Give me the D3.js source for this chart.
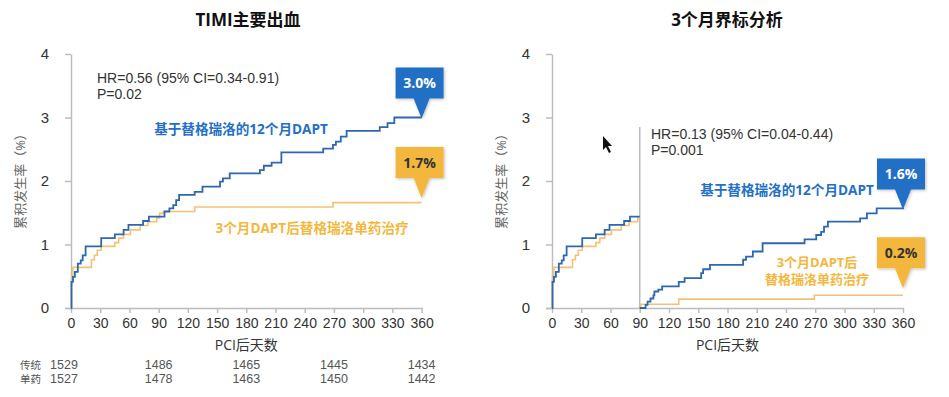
<!DOCTYPE html>
<html>
<head>
<meta charset="utf-8">
<script src="https://cdn.jsdelivr.net/npm/d3@7"></script>
<style>
  body { margin: 0; background: #fff; }
  svg { font-family: "Open Sans", "Noto Sans CJK SC", sans-serif; }
  .axis path, .axis line { stroke: #bdbdbd; stroke-width: 1.5; }
  .axis text { fill: #333; font-size: 14px; }
  .y-axis text { font-size: 15px; }
</style>
</head>
<body>
<div class="chart"></div>
<script>
// ============================================================================
// Data
// ============================================================================

// 基于替格瑞洛的12个月DAPT (full year)
var daptDays  = [0, 0.5, 2, 4, 7, 10, 12, 15, 31, 45, 54, 59, 74, 80, 96, 101, 105, 108, 111, 127, 135, 153, 156, 163, 194, 198, 206, 216, 259, 269, 272, 277, 283, 317, 325, 332, 360];
var daptRates = [0, 0.41, 0.49, 0.57, 0.70, 0.75, 0.83, 0.97, 1.10, 1.16, 1.23, 1.31, 1.37, 1.44, 1.52, 1.57, 1.62, 1.70, 1.78, 1.83, 1.91, 1.99, 2.04, 2.12, 2.17, 2.24, 2.29, 2.45, 2.51, 2.57, 2.62, 2.70, 2.79, 2.85, 2.91, 3.00, 3.00];

// 3个月DAPT后替格瑞洛单药治疗 (full year)
var monoDays  = [0, 0.5, 2, 21, 24, 27, 31, 45, 49, 54, 61, 71, 79, 88, 91, 95, 127, 269, 360];
var monoRates = [0, 0.47, 0.64, 0.76, 0.83, 0.91, 0.97, 1.03, 1.10, 1.16, 1.23, 1.30, 1.36, 1.42, 1.49, 1.52, 1.59, 1.66, 1.66];

// Landmark analysis, after day 90
var daptLmDays  = [90, 96, 98, 101, 104, 105, 109, 113, 130, 136, 153, 155, 162, 196, 199, 206, 216, 259, 271, 276, 279, 283, 316, 323, 333, 360];
var daptLmRates = [0, 0.05, 0.10, 0.15, 0.20, 0.26, 0.29, 0.34, 0.41, 0.47, 0.55, 0.61, 0.68, 0.76, 0.81, 0.89, 1.02, 1.08, 1.15, 1.20, 1.28, 1.36, 1.41, 1.49, 1.57, 1.58];
var monoLmDays  = [90, 91, 130, 269, 360];
var monoLmRates = [0, 0.06, 0.14, 0.20, 0.20];

// Ticks
var xTicks = [0, 30, 60, 90, 120, 150, 180, 210, 240, 270, 300, 330, 360];
var yTicks = [0, 1, 2, 3, 4];

// Number at risk
var riskGroups = ['传统', '单药'];
var riskDays = [0, 90, 180, 270, 360];
var riskDapt = [1529, 1486, 1465, 1445, 1434];
var riskMono = [1527, 1478, 1463, 1450, 1442];

// ============================================================================
// Create SVG
// ============================================================================

var svgWidth = 949;
var svgHeight = 397;

var BLUE_LINE = '#2d67b0';
var BLUE = '#2370c6';
var ORANGE_LINE = '#f3c275';
var ORANGE = '#f4b73e';

var svg = d3.select('.chart')
  .append('svg')
  .attr('width', svgWidth)
  .attr('height', svgHeight);

var defs = svg.append('defs');
var shadow = defs.append('filter').attr('id', 'shadow')
  .attr('x', '-20%').attr('y', '-20%').attr('width', '150%').attr('height', '150%');
shadow.append('feDropShadow')
  .attr('dx', 1).attr('dy', 1).attr('stdDeviation', 1.5)
  .attr('flood-color', '#000').attr('flood-opacity', 0.25);

function zip(days, rates) {
  return days.map((d, i) => ({ day: d, rate: rates[i] }));
}

// multi-line text as one element with tspans
function multiline(g, lines, x, y, lineHeight) {
  var t = g.append('text').attr('x', x).attr('y', y);
  lines.forEach(function(s, i) {
    t.append('tspan')
      .attr('x', x)
      .attr('dy', i === 0 ? 0 : lineHeight)
      .text(s);
  });
  return t;
}

// ============================================================================
// Panel builder
// ============================================================================

function drawPanel(p) {
  var xScale = d3.scaleLinear().domain([0, 360]).range([p.left, p.right]);
  var yScale = d3.scaleLinear().domain([0, 4]).range([308, 54]);

  var g = svg.append('g');

  // title
  g.append('text')
    .attr('x', p.titleX)
    .attr('y', 26)
    .attr('text-anchor', 'middle')
    .attr('font-size', 17)
    .attr('font-weight', 'bold')
    .attr('fill', '#111')
    .text(p.title);

  // axes
  g.append('g')
    .attr('class', 'axis x-axis')
    .attr('transform', `translate(0, ${yScale(0)})`)
    .call(d3.axisBottom(xScale).tickValues(xTicks).tickSize(5).tickPadding(5).tickSizeOuter(0))
    .call(a => a.select('.domain').attr('d', `M${p.left - 6},0.5H${p.right + 1}`));

  g.append('g')
    .attr('class', 'axis y-axis')
    .attr('transform', `translate(${p.left}, 0)`)
    .call(d3.axisLeft(yScale).tickValues(yTicks).tickFormat(d3.format('d'))
      .tickSize(6).tickPadding(16).tickSizeOuter(0));

  // axis titles
  g.append('text')
    .attr('x', (p.left + p.right) / 2)
    .attr('y', 350)
    .attr('text-anchor', 'middle')
    .attr('font-size', 14)
    .attr('fill', '#333')
    .text('PCI后天数');

  g.append('text')
    .attr('transform', `translate(${p.left - 46}, 178) rotate(-90)`)
    .attr('text-anchor', 'middle')
    .attr('font-size', 13)
    .attr('fill', '#666')
    .text('累积发生率（%）');

  var line = d3.line()
    .x(d => xScale(d.day))
    .y(d => yScale(d.rate))
    .curve(d3.curveStepAfter);

  // landmark divider
  if (p.landmark) {
    g.append('line')
      .attr('x1', xScale(90)).attr('x2', xScale(90))
      .attr('y1', yScale(2.85)).attr('y2', yScale(0))
      .attr('stroke', '#bdbdbd')
      .attr('stroke-width', 1.5);
  }

  // curves
  p.series.forEach(function(s) {
    g.append('path')
      .datum(s.data)
      .attr('fill', 'none')
      .attr('stroke', s.color)
      .attr('stroke-width', s.width)
      .attr('d', line);
  });

  // stats text
  multiline(g, p.stats, p.statsX, p.statsY, 16)
    .attr('font-family', '"Liberation Sans", sans-serif')
    .attr('font-size', 14)
    .attr('fill', '#333');

  // series labels
  p.labels.forEach(function(l) {
    multiline(g, l.lines, l.x, l.y, 17)
      .attr('text-anchor', 'middle')
      .attr('font-size', l.size || 13.6)
      .attr('font-weight', 'bold')
      .attr('fill', l.color);
  });

  // end-point callouts
  p.callouts.forEach(function(c) {
    var tx = xScale(360);
    var ty = yScale(c.value) - c.lift;
    var bw = 48, bh = 31, ph = 20;
    var bx = tx - 26, by = ty - ph - bh;
    var path = `M${bx},${by}H${bx + bw}V${by + bh}H${tx + 8}L${tx},${ty}L${tx - 8},${by + bh}H${bx}Z`;
    g.append('path')
      .attr('d', path)
      .attr('fill', c.fill)
      .attr('filter', 'url(#shadow)');
    g.append('text')
      .attr('x', bx + bw / 2)
      .attr('y', by + bh / 2 + 5)
      .attr('text-anchor', 'middle')
      .attr('font-size', 14)
      .attr('font-weight', 'bold')
      .attr('fill', c.textColor)
      .text(c.value.toFixed(1) + '%');
  });

  return { xScale: xScale, g: g };
}

// ============================================================================
// Left panel: TIMI主要出血
// ============================================================================

var left = drawPanel({
  title: 'TIMI主要出血',
  titleX: 248,
  left: 71,
  right: 421.6,
  landmark: false,
  series: [
    { data: zip(monoDays, monoRates), color: ORANGE_LINE, width: 1.6 },
    { data: zip(daptDays, daptRates), color: BLUE_LINE, width: 1.8 }
  ],
  stats: ['HR=0.56 (95% CI=0.34-0.91)', 'P=0.02'],
  statsX: 97,
  statsY: 83,
  labels: [
    { lines: ['基于替格瑞洛的12个月DAPT'], x: 241, y: 134, color: BLUE },
    { lines: ['3个月DAPT后替格瑞洛单药治疗'], x: 312, y: 233, color: ORANGE }
  ],
  callouts: [
    { value: 3.0, lift: -1, fill: BLUE, textColor: '#fff' },
    { value: 1.7, lift: 2, fill: ORANGE, textColor: '#333' }
  ]
});

// number at risk table: one text per column, one line per group
multiline(left.g, riskGroups, 20, 369, 14)
  .attr('font-size', 10.5)
  .attr('fill', '#555');

riskDays.forEach(function(day, i) {
  multiline(left.g, [riskDapt[i], riskMono[i]], left.xScale(day) + (i === 0 ? -7 : 0), 369, 14)
    .attr('text-anchor', 'middle')
    .attr('font-family', '"Liberation Sans", sans-serif')
    .attr('font-size', 12.5)
    .attr('fill', '#555');
});

// ============================================================================
// Right panel: 3个月界标分析
// ============================================================================

function firstQuarter(days, rates) {
  var pts = zip(days, rates).filter(d => d.day <= 90);
  pts.push({ day: 90, rate: pts[pts.length - 1].rate });
  return pts;
}

drawPanel({
  title: '3个月界标分析',
  titleX: 727,
  left: 552,
  right: 903,
  landmark: true,
  series: [
    { data: firstQuarter(monoDays, monoRates), color: ORANGE_LINE, width: 1.6 },
    { data: firstQuarter(daptDays, daptRates), color: BLUE_LINE, width: 1.8 },
    { data: zip(monoLmDays, monoLmRates), color: ORANGE_LINE, width: 1.6 },
    { data: zip(daptLmDays, daptLmRates), color: BLUE_LINE, width: 1.8 }
  ],
  stats: ['HR=0.13 (95% CI=0.04-0.44)', 'P=0.001'],
  statsX: 651,
  statsY: 139,
  labels: [
    { lines: ['基于替格瑞洛的12个月DAPT'], x: 787, y: 195, color: BLUE },
    { lines: ['3个月DAPT后', '替格瑞洛单药治疗'], x: 817, y: 267, color: ORANGE, size: 13 }
  ],
  callouts: [
    { value: 1.6, lift: -3, fill: BLUE, textColor: '#fff' },
    { value: 0.2, lift: 7, fill: ORANGE, textColor: '#333' }
  ]
});

// mouse pointer seen in the screenshot
svg.append('path')
  .attr('d', 'M603,136 L603,150 L606,147 L609,153 L611,152 L608,146 L612,146 Z')
  .attr('fill', '#111');
</script>
</body>
</html>
